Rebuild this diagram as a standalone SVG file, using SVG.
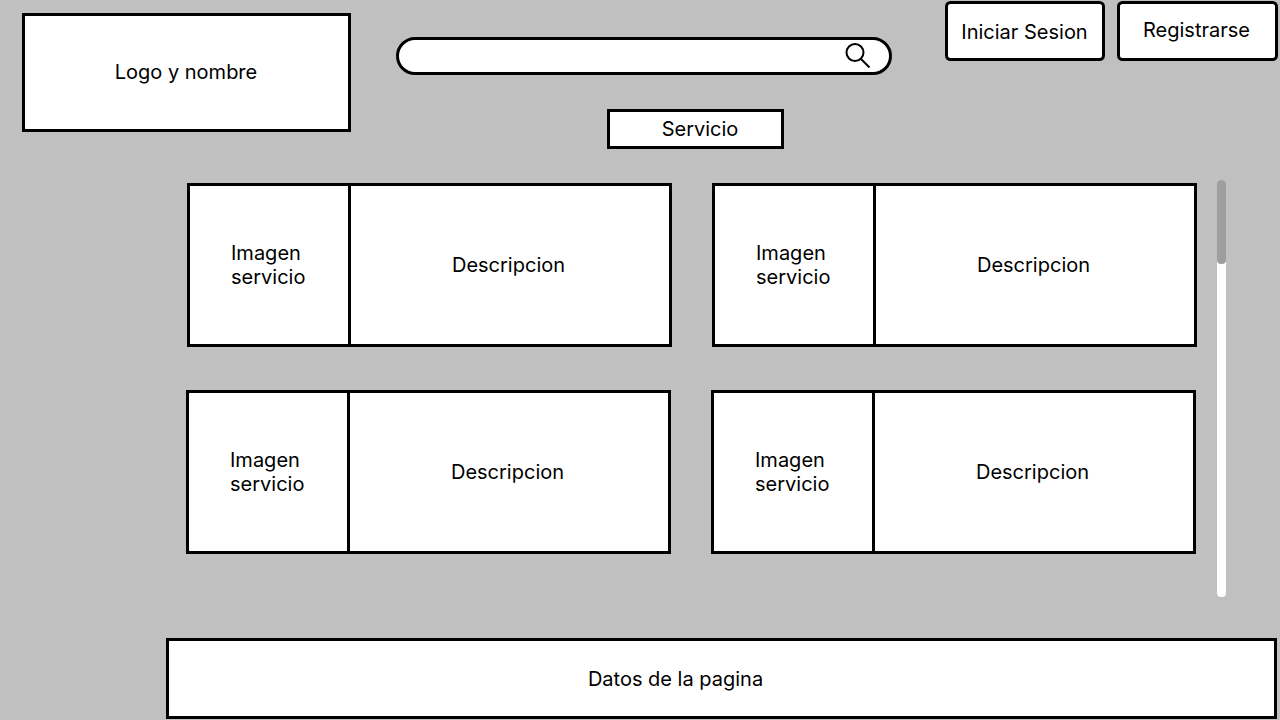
<svg xmlns="http://www.w3.org/2000/svg" width="1280" height="720" viewBox="0 0 1280 720">
<style>
.b{fill:#fff;stroke:#000;stroke-width:3}
.l{fill:none;stroke:#000;stroke-width:3}
text{font-family:Inter,"Liberation Sans",sans-serif;font-size:20px;fill:#000;text-anchor:middle;font-weight:390}
.s{text-anchor:start}
</style>
<rect width="1280" height="720" fill="#c0c0c0"/>
<g id="logo"><rect class="b" x="23.500" y="14.500" width="326" height="116"/><text x="186" y="79">Logo y nombre</text></g>
<g id="search"><rect class="b" x="397.500" y="38.500" width="493" height="35" rx="17.500"/><circle cx="855" cy="52.500" r="8.500" fill="none" stroke="#000" stroke-width="2"/><line x1="861" y1="59" x2="869.500" y2="67.500" stroke="#000" stroke-width="2"/></g>
<g id="login"><rect class="b" x="946.500" y="2.500" width="157" height="57" rx="4"/><text x="1024.500" y="39">Iniciar Sesion</text></g>
<g id="register"><rect class="b" x="1118.500" y="2.500" width="158" height="57" rx="4"/><text x="1196.500" y="37">Registrarse</text></g>
<g id="service"><rect class="b" x="608.500" y="110.500" width="174" height="37"/><text x="700" y="136">Servicio</text></g>
<g id="card1"><rect class="b" x="188.500" y="184.500" width="482" height="161"/><line class="l" x1="349.500" y1="184" x2="349.500" y2="346"/><text class="s" x="231" y="260">Imagen</text><text class="s" x="231" y="284">servicio</text><text x="508.500" y="272">Descripcion</text></g>
<g id="card2"><rect class="b" x="713.500" y="184.500" width="482" height="161"/><line class="l" x1="874.500" y1="184" x2="874.500" y2="346"/><text class="s" x="756" y="260">Imagen</text><text class="s" x="756" y="284">servicio</text><text x="1033.500" y="272">Descripcion</text></g>
<g id="card3"><rect class="b" x="187.500" y="391.500" width="482" height="161"/><line class="l" x1="348.500" y1="391" x2="348.500" y2="553"/><text class="s" x="230" y="467">Imagen</text><text class="s" x="230" y="491">servicio</text><text x="507.500" y="479">Descripcion</text></g>
<g id="card4"><rect class="b" x="712.500" y="391.500" width="482" height="161"/><line class="l" x1="873.500" y1="391" x2="873.500" y2="553"/><text class="s" x="755" y="467">Imagen</text><text class="s" x="755" y="491">servicio</text><text x="1032.500" y="479">Descripcion</text></g>
<g id="scrollbar"><rect x="1217" y="180" width="9" height="417" rx="4" fill="#fff"/><rect x="1217" y="180" width="9" height="84" rx="4" fill="#9e9e9e"/></g>
<g id="footer"><rect class="b" x="167.500" y="639.500" width="1108" height="78"/><text x="675.500" y="686">Datos de la pagina</text></g>
<g id="connectors"></g>
</svg>
